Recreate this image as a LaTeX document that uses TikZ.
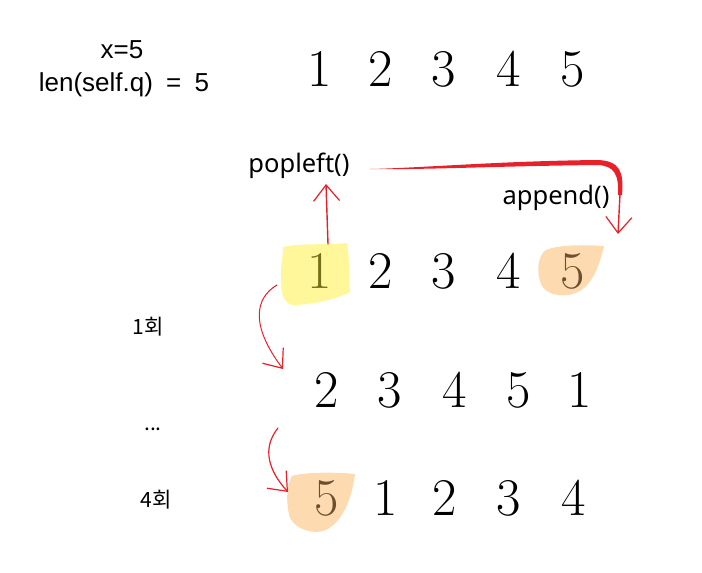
\documentclass[tikz,border=0pt]{standalone}
\usepackage{fontspec}
\usetikzlibrary{arrows.meta}
\newfontfamily\labfont{Liberation Sans}
\newfontfamily\opfont{Noto Sans}
\newfontfamily\krfont{Noto Sans CJK KR}
\definecolor{penred}{HTML}{E8202A}
\definecolor{hlyellow}{HTML}{FFF799}
\definecolor{hlorange}{HTML}{FDDAB0}
\definecolor{onyellow}{HTML}{77701A}
\definecolor{onorange}{HTML}{6B5030}
\tikzset{
  dig/.style={anchor=base, inner sep=0pt, font=\fontsize{53}{53}\selectfont},
  lab/.style={anchor=base, inner sep=0pt, font=\labfont\fontsize{26}{26}\selectfont},
  op/.style={anchor=base, inner sep=0pt, font=\opfont\fontsize{25.5}{25.5}\selectfont},
  kr/.style={anchor=base, inner sep=0pt, font=\krfont\fontsize{21}{21}\selectfont},
  pen/.style={draw=penred, line width=1.4pt, line cap=round,
    -{Straight Barb[length=16pt,width=26pt,line width=1.2pt]}}
}
\begin{document}
\begin{tikzpicture}[x=1pt,y=-1pt]
\useasboundingbox (0,0) rectangle (702,573);
% highlight blobs
\fill[hlyellow] (283,247) .. controls (300,243) and (330,245) .. (347,243)
  .. controls (350,260) and (348,275) .. (350,292)
  .. controls (335,300) and (310,305) .. (292,305)
  .. controls (282,302) and (281,290) .. (281,280)
  .. controls (280,268) and (283,258) .. (283,247) -- cycle;
\fill[hlorange] (604,246) .. controls (590,245) and (560,244) .. (546,250)
  .. controls (537,256) and (536,275) .. (542,286)
  .. controls (548,296) and (566,298) .. (578,292)
  .. controls (594,284) and (600,262) .. (604,246) -- cycle;
\fill[hlorange] (355,474) .. controls (335,472) and (305,472) .. (292,476)
  .. controls (286,485) and (286,505) .. (290,518)
  .. controls (296,530) and (315,535) .. (326,530)
  .. controls (345,520) and (352,495) .. (355,474) -- cycle;
% labels
\node[lab] (xlab) at (122,58) {x=5};
\node[lab] (lenlab) at (124,91) {len(self.q)\hspace{6pt} =\hspace{6pt} 5};
% row 1
\node[dig] (a1) at (320,86) {1};
\node[dig] (a2) at (381,86) {2};
\node[dig] (a3) at (444,86) {3};
\node[dig] (a4) at (509,86) {4};
\node[dig] (a5) at (573,86) {5};
% operations
\node[op] (pop) at (299,172) {popleft()};
\node[op] (app) at (556,204) {append()};
% row 2
\node[dig, text=onyellow] (b1) at (320,288) {1};
\node[dig] (b2) at (381,288) {2};
\node[dig] (b3) at (444,288) {3};
\node[dig] (b4) at (509,288) {4};
\node[dig, text=onorange] (b5) at (573,288) {5};
% row 3
\node[dig] (c2) at (327,407) {2};
\node[dig] (c3) at (390,407) {3};
\node[dig] (c4) at (455,407) {4};
\node[dig] (c5) at (519,407) {5};
\node[dig] (c1) at (580,407) {1};
% row 4
\node[dig, text=onorange] (e5) at (327,515) {5};
\node[dig] (e1) at (386,515) {1};
\node[dig] (e2) at (445,515) {2};
\node[dig] (e3) at (509,515) {3};
\node[dig] (e4) at (574,515) {4};
% side labels
\node[kr] (once) at (148,334) {1회};
\node[kr] (dots) at (153,430) {...};
\node[kr] (four) at (156,507) {4회};
% arrows
\coordinate (popstart) at (328,244);
\coordinate (popend) at (326,184);
\draw[pen] (popstart) -- (popend);
\coordinate (longstart) at (370,169);
\coordinate (longend) at (618,234);
% tapered brush stroke
\fill[penred] (longstart) .. controls (420,168) and (500,161) .. (598,160)
  .. controls (620,161) and (624,172) .. (622,195)
  -- (618,195)
  .. controls (619,174) and (614,166) .. (598,165)
  .. controls (500,166) and (420,170) .. (longstart) -- cycle;
\draw[pen] (620,194) -- (longend);
\coordinate (r1start) at (277,285);
\coordinate (r1end) at (283,369);
\draw[pen, line width=1pt] (r1start) .. controls (255,298) and (250,325) .. (r1end);
\coordinate (r2start) at (278,428);
\coordinate (r2end) at (288,492);
\draw[pen, line width=1.2pt] (r2start) .. controls (262,448) and (268,470) .. (r2end);
\end{tikzpicture}
\end{document}
